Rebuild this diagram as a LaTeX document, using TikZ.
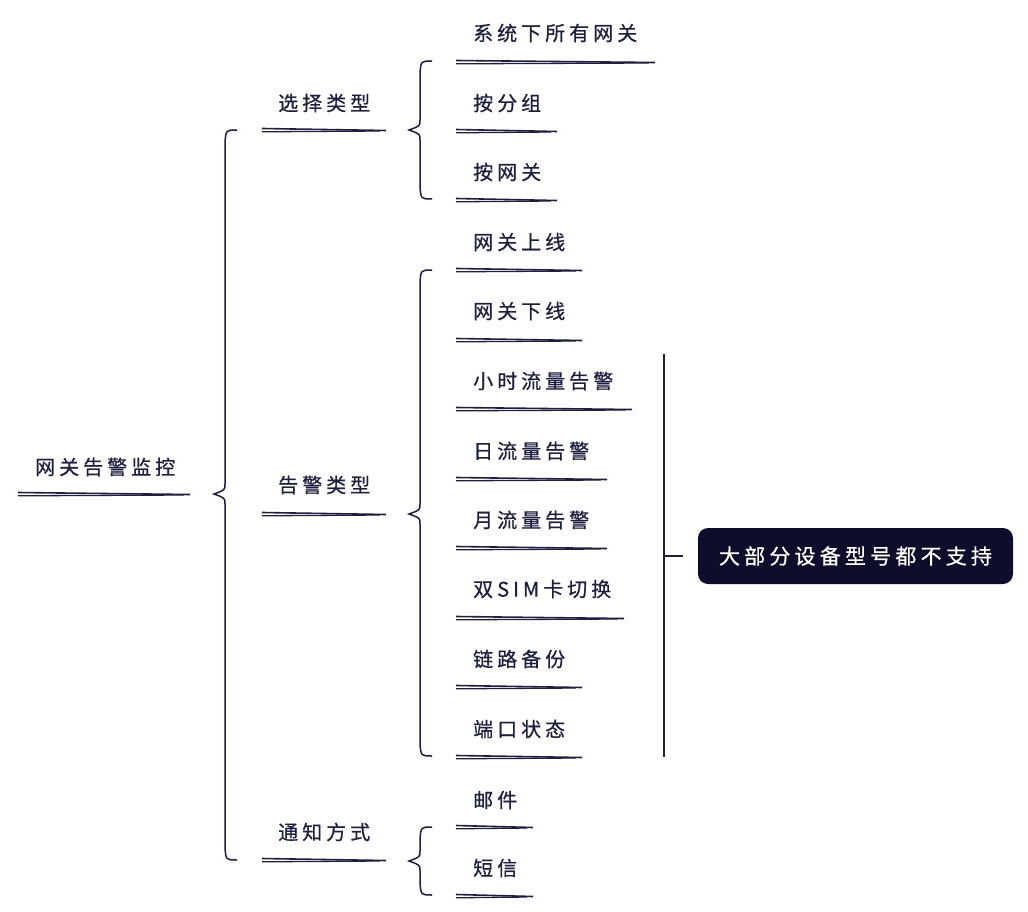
\documentclass[tikz,border=0pt]{standalone}
\usepackage{fontspec}
\newfontfamily\cjk[LetterSpace=20,FakeBold=0.6]{Noto Sans CJK SC}
\definecolor{ink}{HTML}{1E1E3F}
\definecolor{boxfill}{HTML}{0E0E2C}

% sketchy double underline: left x, right x, y
\newcommand{\uline}[3]{%
    \draw[ink, line width=1.6pt] (#1,#3-1.5) -- (#2,#3+0.5);
    \draw[ink, line width=1.3pt] (#1,#3+1.8) -- (#2-6,#3+1);
}
% curly brace: vertical x, top y, tip y, bottom y
\newcommand{\mbrace}[4]{%
    \draw[ink, line width=1.5pt]
        (#1+12,#2) .. controls (#1+1,#2) .. (#1,#2+12)
        -- (#1,#3-10) .. controls (#1,#3-4) .. (#1-11,#3)
        .. controls (#1,#3+4) .. (#1,#3+10)
        -- (#1,#4-12) .. controls (#1+1,#4) .. (#1+12,#4);
}

\begin{document}
\begin{tikzpicture}[
    x=1pt, y=-1pt,
    lbl/.style={
        inner sep=0pt,
        anchor=west,
        text=ink,
        font=\cjk\fontsize{20}{24}\selectfont
    },
    note/.style={
        fill=boxfill,
        rounded corners=10pt,
        minimum width=315pt,
        minimum height=56pt,
        text=white,
        font=\cjk\fontsize{21}{24}\selectfont
    }
]
    \useasboundingbox (0,0) rectangle (1028,912);

    % root
    \node[lbl] (root) at (35,467) {网关告警监控};
    \uline{18}{190}{494}
    \mbrace{225}{130}{494}{860}

    % first level
    \node[lbl] (sel) at (278,103) {选择类型};
    \uline{262}{386}{130}
    \node[lbl] (alarm) at (278,485) {告警类型};
    \uline{262}{386}{514}
    \node[lbl] (notify) at (278,832) {通知方式};
    \uline{262}{386}{860}

    % select type
    \mbrace{420}{61}{130}{199}
    \node[lbl] (all) at (473,33) {系统下所有网关};
    \uline{456}{655}{62}
    \node[lbl] (group) at (473,103) {按分组};
    \uline{456}{557}{131}
    \node[lbl] (gw) at (473,172) {按网关};
    \uline{456}{557}{200}

    % alarm type
    \mbrace{420}{270}{514}{756}
    \node[lbl] (online) at (473,242) {网关上线};
    \uline{456}{582}{270}
    \node[lbl] (offline) at (473,311) {网关下线};
    \uline{456}{582}{340}
    \node[lbl] (hour) at (473,381) {小时流量告警};
    \uline{456}{632}{409}
    \node[lbl] (day) at (473,451) {日流量告警};
    \uline{456}{607}{479}
    \node[lbl] (month) at (473,520) {月流量告警};
    \uline{456}{607}{548}
    \node[lbl] (sim) at (473,589) {双SIM卡切换};
    \uline{456}{624}{618}
    \node[lbl] (backup) at (473,659) {链路备份};
    \uline{456}{582}{687}
    \node[lbl] (port) at (473,729) {端口状态};
    \uline{456}{582}{757}

    % notify
    \mbrace{420}{827}{861}{895}
    \node[lbl] (mail) at (473,800) {邮件};
    \uline{456}{533}{827}
    \node[lbl] (sms) at (473,868) {短信};
    \uline{456}{533}{896}

    % remark
    \coordinate (ntop) at (664,354);
    \coordinate (nbot) at (664,757);
    \coordinate (nmid) at (664,556);
    \node[note] (remark) at (855.5,556) {大部分设备型号都不支持};
    \draw[ink, line width=1.5pt] (ntop) -- (nbot);
    \draw[ink, line width=1.5pt] (nmid) -- (683,556);
\end{tikzpicture}
\end{document}
